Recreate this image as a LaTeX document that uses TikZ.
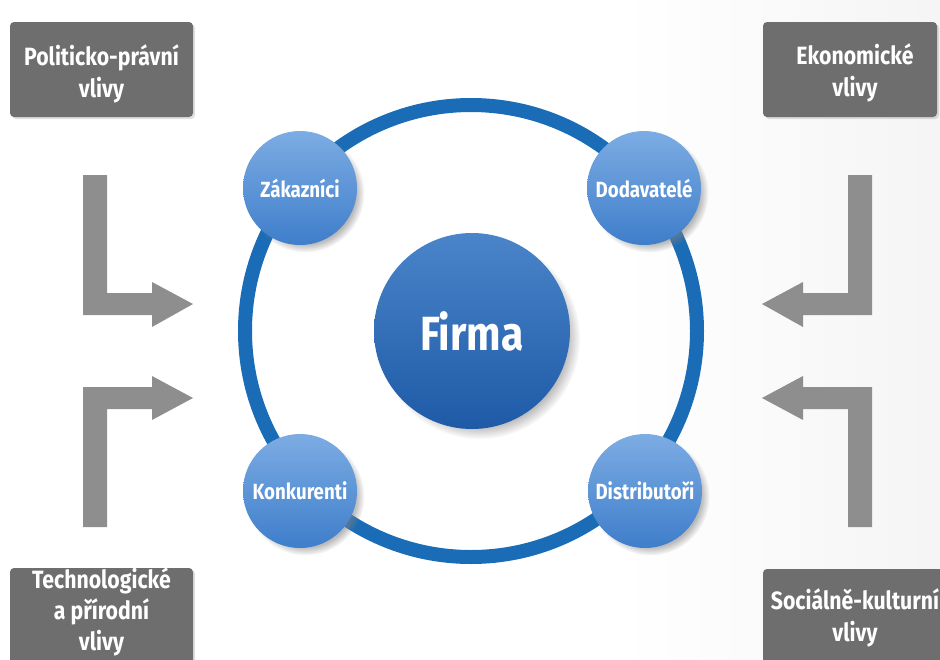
\documentclass[tikz,border=0pt]{standalone}
\usepackage{fontspec}
\setmainfont{Fira Sans}[FakeStretch=0.85]
\newfontfamily\firmafont{Fira Sans}[FakeStretch=0.85]
\usetikzlibrary{shadows,fadings}
\definecolor{ringblue}{HTML}{1B6CB6}
\definecolor{firmatop}{HTML}{4A85CA}
\definecolor{firmabot}{HTML}{1E5AA6}
\definecolor{smalltop}{HTML}{7CACE3}
\definecolor{smallbot}{HTML}{3F7ECB}
\definecolor{boxgray}{HTML}{6E6E6E}
\definecolor{arrowgray}{HTML}{8E8E8E}
\tikzset{
  graybox/.style={fill=boxgray, rounded corners=4pt,
    drop shadow={shadow xshift=2pt, shadow yshift=-2pt, opacity=0.25}},
  boxtext/.style={text=white, font=\bfseries\fontsize{25}{32}\selectfont, align=center, inner sep=0pt},
  smallcirc/.style={circle, minimum size=114pt, inner sep=0pt,
    top color=smalltop, bottom color=smallbot, text=white,
    font=\bfseries\fontsize{22}{24}\selectfont,
    circular drop shadow={shadow xshift=5pt, shadow yshift=-5pt, shadow scale=1.04, opacity=0.55}},
  firmacirc/.style={circle, minimum size=196pt, inner sep=0pt,
    top color=firmatop, bottom color=firmabot, text=white,
    font=\firmafont\bfseries\fontsize{48}{50}\selectfont,
    circular drop shadow={shadow xshift=7pt, shadow yshift=-7pt, shadow scale=1.03, opacity=0.6}},
  grayarrow/.style={fill=arrowgray, draw=none}
}
\begin{document}
\begin{tikzpicture}[x=1pt,y=-1pt]
\useasboundingbox (0,0) rectangle (940,659);
\clip (0,0) rectangle (940,659);
\shade[left color=white, right color=black!4] (620,0) rectangle (940,659);

% ring
\node[circle, draw=ringblue, line width=14pt, minimum size=452pt, inner sep=0pt] (ring) at (471,331) {};

% small circles
\node[smallcirc] (zak) at (300,188) {Zákazníci};
\node[smallcirc] (dod) at (644,188) {Dodavatelé};
\node[smallcirc] (kon) at (300,491) {Konkurenti};
\node[smallcirc] (dis) at (645,491) {Distributoři};

% firma
\node[firmacirc] (firma) at (472,331) {Firma};

% gray boxes
\node[graybox, minimum width=183pt, minimum height=95pt] (pol) at (101.5,69.5) {};
\node[boxtext] (polt) at (101.5,74) {Politicko-právní\\vlivy};
\node[graybox, minimum width=174pt, minimum height=95pt] (eko) at (850,69.5) {};
\node[boxtext] (ekot) at (855,73) {Ekonomické\\vlivy};
\node[graybox, minimum width=183pt, minimum height=98pt] (tech) at (101.5,617) {};
\node[boxtext, font=\bfseries\fontsize{25}{31}\selectfont] (techt) at (101.5,612) {Technologické\\a přírodní\\vlivy};
\node[graybox, minimum width=184pt, minimum height=95pt] (soc) at (855,616.5) {};
\node[boxtext] (soct) at (855,618) {Sociálně-kulturní\\vlivy};

% arrows
\fill[grayarrow] (83,175) -- (107,175) -- (107,293) -- (152,293) -- (152,282) -- (193,304) -- (152,327) -- (152,315) -- (83,315) -- cycle;
\fill[grayarrow] (83,527) -- (83,387) -- (152,387) -- (152,376) -- (193,398) -- (152,420) -- (152,409) -- (107,409) -- (107,527) -- cycle;
\fill[grayarrow] (872,175) -- (848,175) -- (848,293) -- (803,293) -- (803,282) -- (762,304) -- (803,327) -- (803,315) -- (872,315) -- cycle;
\fill[grayarrow] (872,527) -- (872,387) -- (803,387) -- (803,376) -- (762,398) -- (803,420) -- (803,409) -- (848,409) -- (848,527) -- cycle;
\end{tikzpicture}
\end{document}
